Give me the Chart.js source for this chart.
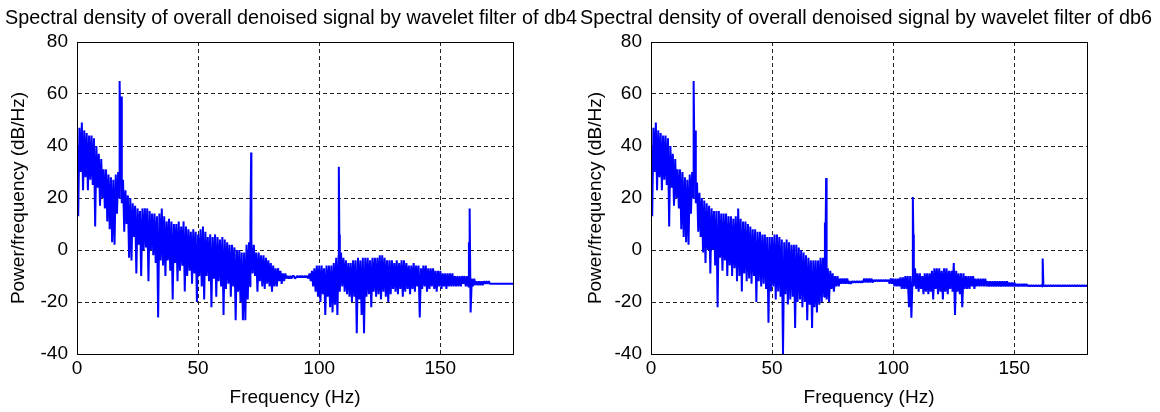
<!DOCTYPE html>
<html lang="en">
<head>
  <meta charset="UTF-8">
  <title>Spectral density of denoised signal</title>
  <style>
    body {
      margin: 0;
      background: #fff;
      font-family: "Liberation Sans", Arial, sans-serif;
    }
    .panel {
      position: absolute;
      top: 0;
      width: 580px;
      height: 412px;
    }
  </style>
</head>
<body>

  <div class="panel" style="left:0"><canvas id="db4-chart" width="580" height="412"></canvas></div>
  <div class="panel" style="left:580px"><canvas id="db6-chart" width="580" height="412"></canvas></div>

  <script src="https://cdn.jsdelivr.net/npm/chart.js"></script>
  <script>
    // axis ticks
    const xTickVals = [0, 50, 100, 150];
    const yTickVals = [-40, -20, 0, 20, 40, 60, 80];

    // db4 : upper and lower edge of the noisy spectrum, one value per Hz (0..180)
    const db4Upper = [
      41, 47, 49, 46, 45, 44, 44, 43, 40, 37, 35, 31, 31, 29, 28, 27, 29, 30, 29, 27,
      23, 21, 20, 18, 17, 16, 15, 16, 16, 16, 15, 14, 14, 13, 14, 16, 13, 11, 12, 11,
      10, 10, 11, 9, 11, 9, 8, 7, 8, 7, 6, 8, 9, 7, 5, 6, 5, 6, 5, 4,
      5, 4, 3, 2, 2, 1, 0, 0, -1, -1, 2, 3, 3, 2, -1, -1, -2, -2, -3, -4,
      -5, -6, -7, -7, -8, -9, -9, -10, -10, -10, -11, -10, -10, -10, -10, -10, -9, -8, -7, -6,
      -6, -6, -7, -6, -6, -6, -5, -3, -2, -1, -3, -4, -5, -5, -4, -4, -3, -4, -3, -3,
      -3, -4, -3, -3, -3, -2, -2, -3, -4, -4, -4, -5, -4, -5, -4, -4, -5, -6, -6, -5,
      -6, -6, -7, -6, -6, -7, -7, -7, -8, -8, -8, -9, -9, -9, -9, -9, -10, -10, -10, -10,
      -10, -10, -10.5, -11, -11, -12, -12, -12, -12, -12, -12, -13, -13, -13, -13, -13, -13, -13, -13, -13,
      -13
    ];
    const db4Lower = [
      13, 30, 23, 28, 23, 27, 25, 9, 24, 17, 20, 16, 11, 8, 3, 2, 14, 20, 18, 7,
      10, -3, -4, 5, -9, 2, -10, 0, 1, -12, 0, -2, -5, -26, -4, -6, -10, -4, -8, -19,
      -5, -12, -8, -6, -16, -10, -8, -13, -9, -20, -10, -14, -19, -10, -12, -22, -11, -18, -12, -14,
      -25, -15, -13, -18, -14, -27, -16, -20, -27, -27, -19, -14, -9, -10, -16, -12, -14, -15, -13, -14,
      -16, -14, -14, -12, -13, -12, -11, -11, -11, -10, -10.5, -10.5, -10.5, -10.5, -10.5, -11, -12, -14, -16, -18,
      -20, -17, -25, -18, -22, -24, -21, -25, -16, -14, -16, -17, -18, -20, -18, -32, -19, -25, -32, -18,
      -17, -22, -16, -18, -17, -19, -16, -18, -20, -17, -15, -16, -17, -15, -18, -16, -15, -17, -15, -16,
      -14, -26, -15, -14, -16, -15, -14, -15, -16, -14, -15, -14, -15, -14, -14, -14, -14, -14, -14, -13,
      -14, -14, -24, -14, -13.5, -13.5, -13.5, -13.5, -13, -13, -13, -13, -13, -13, -13, -13, -13, -13, -13, -13,
      -13
    ];
    // db4 : narrow harmonic peaks
    const db4PeakHz = [17.6, 18.2, 71.6, 71.9, 108.1, 108.3, 161.8, 162.1];
    const db4PeakDb = [65, 59, 10, 37.5, 32, 6, 3, 16];

    // db6 : upper and lower edge of the noisy spectrum, one value per Hz (0..180)
    const db6Upper = [
      41, 47, 49, 46, 45, 44, 44, 43, 40, 37, 35, 31, 31, 30, 28, 27, 29, 30, 29, 26,
      22, 20, 19, 18, 17, 16, 15, 15, 15, 14, 14, 14, 13, 13, 12, 13, 16, 12, 11, 11,
      10, 9, 8, 8, 7, 7, 6, 6, 5, 5, 5, 6, 6, 5, 4, 3, 4, 3, 2, 2,
      2, 1, 0, -1, -2, -3, -4, -4, -4, -4, -3, -3, -2, -7, -8, -9, -10, -10, -11, -11,
      -11, -11, -12, -12, -12, -12, -12, -12, -11, -11, -11, -11, -11.5, -11.5, -11.5, -11.5, -11.5, -11.5, -11.5, -11,
      -11, -11, -11, -10.5, -10.5, -10, -10, -10, -10, -7, -9, -9, -10, -9, -9, -9, -8, -7, -7, -7,
      -8, -7, -7, -8, -8, -5, -8, -9, -9, -9, -10, -10, -10, -10, -11, -11, -11, -11, -11, -12,
      -12, -12, -12, -12, -12, -12, -12, -12, -12.5, -12.5, -12.5, -13, -13, -13, -13, -13, -13.5, -13.5, -13.5, -13.5,
      -13.5, -13.5, -13.5, -13.5, -13.5, -13.5, -13.5, -13.5, -13.5, -13.5, -13.5, -13.5, -13.5, -13.5, -13.5, -13.5, -13.5, -13.5, -13.5, -13.5,
      -13.5
    ];
    const db6Lower = [
      13, 30, 23, 28, 23, 27, 25, 9, 24, 17, 20, 16, 8, 5, 3, 2, 14, 20, 18, 7,
      5, -1, -5, 0, -9, 0, -6, -22, -3, -8, -4, -10, -6, -10, -7, -12, -10, -16, -9, -12,
      -11, -13, -10, -20, -12, -14, -13, -15, -28, -16, -14, -19, -16, -18, -40, -17, -21, -19, -18, -30,
      -20, -19, -22, -20, -27, -21, -30, -22, -24, -21, -20, -18, -19, -20, -15, -16, -14, -14, -13, -13,
      -13, -13, -13, -12.5, -12.5, -12.5, -12.5, -12.5, -12.5, -12.5, -12.5, -12.5, -12, -12, -12, -12, -12, -12, -13, -13,
      -14, -14, -14, -15, -15, -15, -22, -26, -14, -15, -16, -15, -17, -16, -17, -16, -19, -15, -17, -16,
      -19, -16, -17, -15, -16, -25, -16, -17, -22, -15, -15, -15, -14, -15, -14, -14, -14, -14, -14, -14,
      -14, -14, -14, -14, -14, -14, -14, -14, -14, -14, -14, -14, -14, -14, -14, -14, -14, -14, -14, -14,
      -14, -14, -14, -14, -14, -14, -14, -14, -14, -14, -14, -14, -14, -14, -14, -14, -14, -14, -14, -14,
      -14
    ];
    const db6PeakHz = [17.6, 18.3, 71.8, 72.3, 108.1, 108.3, 161.7];
    const db6PeakDb = [65, 46, 10.6, 27.7, 20.4, 6, -3.3];

    const FONT = '"Liberation Sans", Arial, Helvetica, sans-serif';

    // zig-zag between the upper and lower edge, then drop the peaks in
    function buildSeries(upper, lower, peakHz, peakDb) {
      const pts = [];
      for (let i = 0; i < upper.length; i++) {
        pts.push({ x: i, y: upper[i] });
        if (i < upper.length - 1) pts.push({ x: i + 0.5, y: lower[i] });
      }
      peakHz.forEach((f, k) => pts.push({ x: f, y: peakDb[k] }));
      return pts.sort((a, b) => a.x - b.x);
    }

    // full black box round the plot area, like matlab
    const boxPlugin = {
      id: 'box',
      afterDraw(chart) {
        const a = chart.chartArea;
        const ctx = chart.ctx;
        ctx.save();
        ctx.strokeStyle = '#000';
        ctx.lineWidth = 1;
        ctx.strokeRect(Math.round(a.left) + 0.5, Math.round(a.top) + 0.5,
          Math.round(a.right - a.left), Math.round(a.bottom - a.top));
        ctx.restore();
      }
    };

    // plot title, centred on the panel (the built-in one gets squeezed by the padding)
    const titlePlugin = {
      id: 'panelTitle',
      afterDraw(chart, args, opts) {
        const ctx = chart.ctx;
        ctx.save();
        ctx.fillStyle = '#000';
        ctx.font = opts.size + 'px ' + FONT;
        ctx.textAlign = 'center';
        ctx.textBaseline = 'middle';
        ctx.fillText(opts.text, opts.x, opts.y);
        ctx.restore();
      }
    };

    function makeChart(id, title, titleX, series, yAxisWidth, padRight, yTitlePad) {
      const ctx = document.getElementById(id).getContext('2d');
      return new Chart(ctx, {
        type: 'line',
        data: {
          datasets: [{
            data: series,
            borderColor: '#0000ff',
            borderWidth: 2,
            borderJoinStyle: 'bevel',
            pointRadius: 0,
            tension: 0,
            fill: false
          }]
        },
        options: {
          responsive: false,
          animation: false,
          events: [],
          layout: { padding: { top: 42, right: padRight, bottom: 0, left: 0 } },
          plugins: {
            legend: { display: false },
            tooltip: { enabled: false },
            title: { display: false },
            panelTitle: { text: title, x: titleX, y: 19, size: 19.8 }
          },
          scales: {
            x: {
              type: 'linear',
              min: 0,
              max: 180,
              afterBuildTicks: (scale) => { scale.ticks = xTickVals.map(v => ({ value: v })); },
              afterFit: (scale) => { scale.height = 58; },
              grid: { color: '#222', lineWidth: 1, drawTicks: false },
              border: { display: true, color: '#000', dash: [4, 3] },
              ticks: { color: '#000', font: { family: FONT, size: 19 }, padding: 3, maxRotation: 0 },
              title: {
                display: true,
                text: 'Frequency (Hz)',
                color: '#000',
                font: { family: FONT, size: 19 },
                padding: { top: 0, bottom: 3 }
              }
            },
            y: {
              min: -40,
              max: 80,
              afterBuildTicks: (scale) => { scale.ticks = yTickVals.map(v => ({ value: v })); },
              afterFit: (scale) => { scale.width = yAxisWidth; },
              grid: { color: '#222', lineWidth: 1, drawTicks: false },
              border: { display: true, color: '#000', dash: [4, 3] },
              ticks: { color: '#000', font: { family: FONT, size: 19 }, padding: 9 },
              title: {
                display: true,
                text: 'Power/frequency (dB/Hz)',
                color: '#000',
                font: { family: FONT, size: 19 },
                padding: { top: yTitlePad, bottom: 0 }
              }
            }
          }
        },
        plugins: [boxPlugin, titlePlugin]
      });
    }

    window.onload = function () {
      makeChart('db4-chart', 'Spectral density of overall denoised signal by wavelet filter of db4', 291,
        buildSeries(db4Upper, db4Lower, db4PeakHz, db4PeakDb), 77, 67, 7);
      makeChart('db6-chart', 'Spectral density of overall denoised signal by wavelet filter of db6', 286,
        buildSeries(db6Upper, db6Lower, db6PeakHz, db6PeakDb), 71, 73, 4);
    };
  </script>
</body>
</html>
